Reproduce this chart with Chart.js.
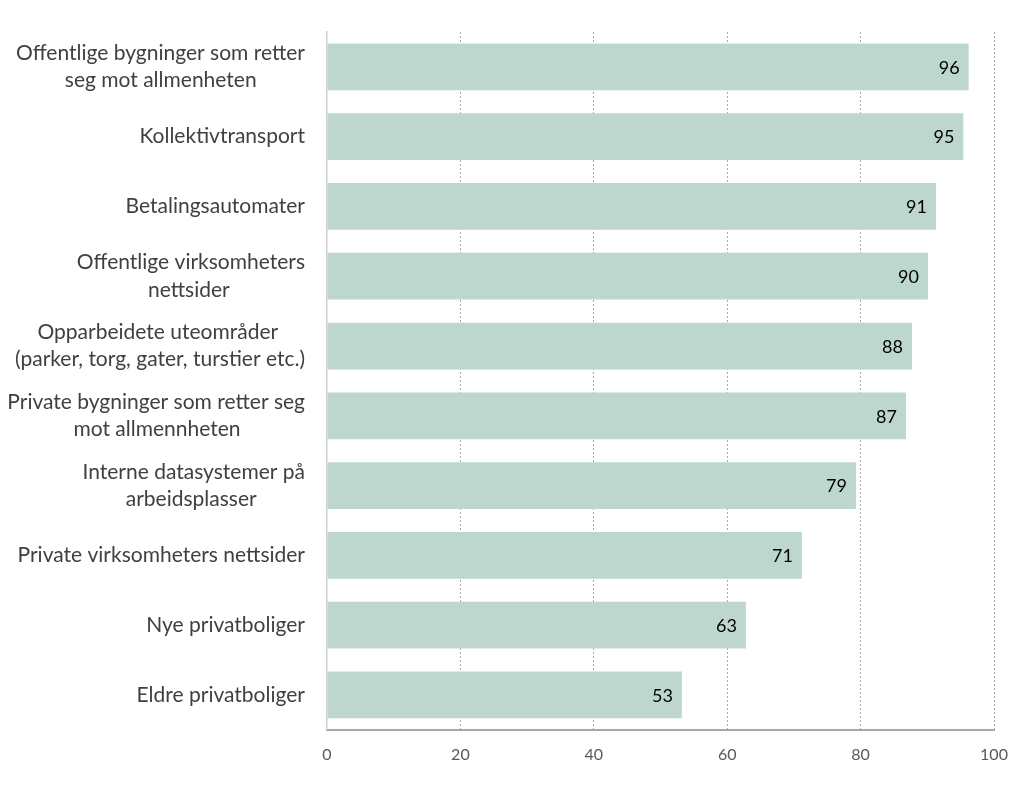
<!DOCTYPE html>
<html>
<head>
<meta charset="utf-8">
<script src="https://cdn.jsdelivr.net/npm/chart.js@4"></script>
<style>
  html, body { margin: 0; padding: 0; background: #fff; }
  #wrap { width: 1024px; height: 797px; position: relative; }
</style>
</head>
<body>
<div id="wrap"><canvas id="c" width="1024" height="797"></canvas></div>
<script>
const categories = [
  ["Offentlige bygninger som retter", "seg mot allmenheten"],
  "Kollektivtransport",
  "Betalingsautomater",
  ["Offentlige virksomheters", "nettsider"],
  ["Opparbeidete uteområder", "(parker, torg, gater, turstier etc.)"],
  ["Private bygninger som retter seg", "mot allmennheten"],
  ["Interne datasystemer på", "arbeidsplasser"],
  "Private virksomheters nettsider",
  "Nye privatboliger",
  "Eldre privatboliger"
];
const values = [96.2, 95.4, 91.3, 90.1, 87.7, 86.8, 79.3, 71.2, 62.8, 53.2];
const valueLabels = ["96", "95", "91", "90", "88", "87", "79", "71", "63", "53"];
const xTicks = [0, 20, 40, 60, 80, 100];

const LABEL_FONT = "21px Lato";
const measureCtx = document.createElement('canvas').getContext('2d');
function centerLines(lbl) {
  if (!Array.isArray(lbl)) return lbl;
  measureCtx.font = LABEL_FONT;
  const widths = lbl.map(s => measureCtx.measureText(s).width);
  const maxW = Math.max(...widths);
  const sp = measureCtx.measureText(' ').width;
  return lbl.map((s, i) => s + ' '.repeat(Math.round((maxW - widths[i]) / 2 / sp)));
}

const barLabelPlugin = {
  id: 'barLabels',
  afterDatasetsDraw(chart) {
    const ctx = chart.ctx;
    const meta = chart.getDatasetMeta(0);
    ctx.save();
    ctx.font = '18px Lato';
    ctx.fillStyle = '#000';
    ctx.textAlign = 'right';
    ctx.textBaseline = 'middle';
    meta.data.forEach((el, i) => {
      ctx.fillText(valueLabels[i], el.x - 9, el.y + 1);
    });
    ctx.restore();
  }
};

new Chart(document.getElementById('c'), {
  type: 'bar',
  data: {
    labels: categories,
    datasets: [{
      data: values,
      backgroundColor: '#BDD7CF',
      borderWidth: 0,
      categoryPercentage: 1,
      barPercentage: 0.67
    }]
  },
  options: {
    indexAxis: 'y',
    responsive: false,
    animation: false,
    devicePixelRatio: 1,
    layout: { padding: { top: 32, right: 30, bottom: 18, left: 0 } },
    plugins: { legend: { display: false }, tooltip: { enabled: false } },
    scales: {
      x: {
        min: 0, max: 100,
        afterBuildTicks: (s) => { s.ticks = xTicks.map(v => ({ value: v })); },
        grid: {
          color: (c) => (c.tick && c.tick.value === 0) ? 'rgba(0,0,0,0)' : '#A8A8A8',
          lineWidth: 1,
          drawTicks: false
        },
        border: { display: true, color: '#A6A6A6', width: 2, dash: [2, 2] },
        ticks: { color: '#595959', font: { family: 'Lato', size: 16 }, padding: 15 }
      },
      y: {
        afterFit: (s) => { s.width = 327; s.paddingTop = 0; s.paddingBottom = 0; },
        grid: { color: 'rgba(0,0,0,0)', drawTicks: false },
        border: { display: true, color: '#D0D0D0', width: 1.5 },
        ticks: {
          color: '#404040',
          font: { family: 'Lato', size: 21, lineHeight: 1.3 },
          padding: 22,
          crossAlign: 'near',
          callback: function (v, i) { return centerLines(categories[i]); }
        }
      }
    }
  },
  plugins: [barLabelPlugin]
});
</script>
</body>
</html>
